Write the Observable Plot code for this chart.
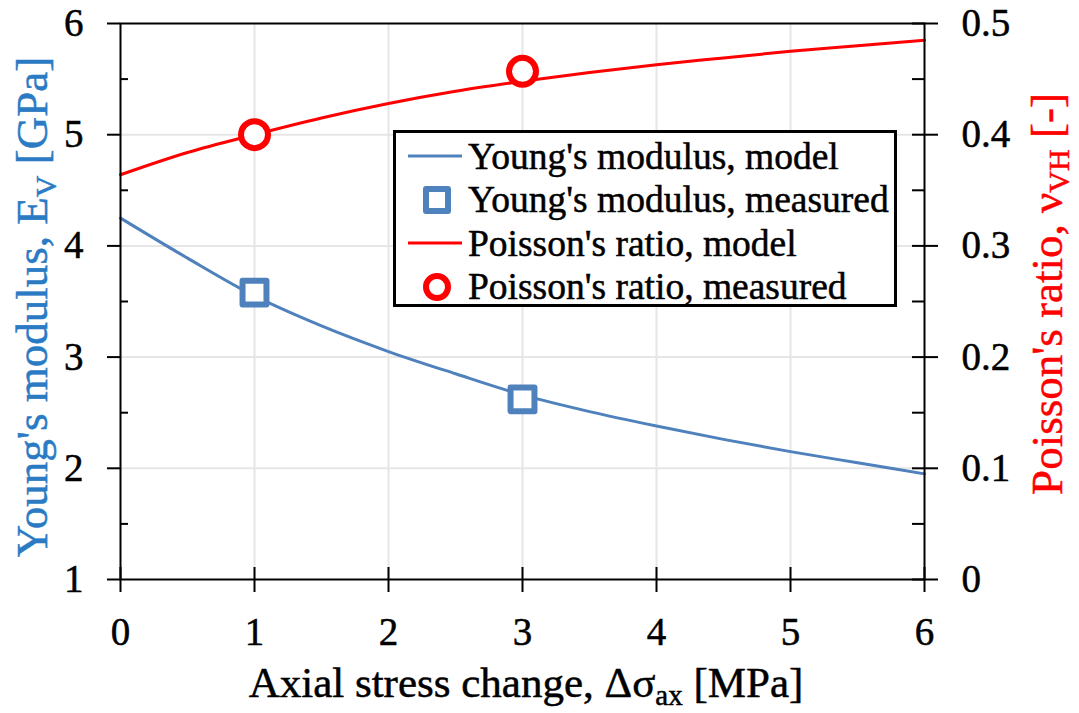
<!DOCTYPE html>
<html>
<head>
<meta charset="utf-8">
<script src="https://cdn.jsdelivr.net/npm/d3@7"></script>
<script src="https://cdn.jsdelivr.net/npm/@observablehq/plot@0.6"></script>
<style>
  body { margin: 0; background: #fff; }
  #wrap { position: relative; width: 1079px; height: 713px; font-family: "Liberation Serif", "Times New Roman", "DejaVu Serif", serif; }
  #wrap svg, #wrap svg text { font-family: "Liberation Serif", "Times New Roman", "DejaVu Serif", serif; }
  #wrap svg text { stroke: #000; stroke-width: 0.5px; }
  #legend { position: absolute; left: 393px; top: 130px; width: 498px; height: 171px; border: 3px solid #000; background: #fff; }
  .row { position: absolute; left: 0; height: 44px; display: flex; align-items: center; font-size: 37.5px; white-space: nowrap; color: #000; -webkit-text-stroke: 0.5px #000; }
  .row svg { display: block; margin-left: 12px; margin-right: 4px; }
</style>
</head>
<body>
<div id="wrap"></div>
<script>
// ---- data ----
const stress = [0, 0.5, 1, 1.5, 2, 2.5, 3, 3.5, 4, 4.5, 5, 5.5, 6];
const youngModel = [4.25, 3.89, 3.55, 3.28, 3.05, 2.85, 2.66, 2.51, 2.38, 2.26, 2.15, 2.05, 1.95];
const poissonModel = [0.364, 0.384, 0.400, 0.415, 0.428, 0.439, 0.448, 0.456, 0.463, 0.469, 0.475, 0.480, 0.485];
const measuredStress = [1, 3];
const youngMeasured = [3.58, 2.62];
const poissonMeasured = [0.400, 0.457];
const xTicks = [0, 1, 2, 3, 4, 5, 6];
const leftTicks = [1, 2, 3, 4, 5, 6];
const leftMinor = [1.5, 2.5, 3.5, 4.5, 5.5];
const rightTicks = [0, 0.1, 0.2, 0.3, 0.4, 0.5];
const rightMinor = [0.05, 0.15, 0.25, 0.35, 0.45];

const blue = "#4f81bd";
const red = "#ff0000";
const blueTitle = "#2a7bc4";
const serif = "'Liberation Serif', 'Times New Roman', 'DejaVu Serif', serif";

// right axis (Poisson) mapped onto left axis domain [1,6]
const nuToE = v => 1 + v * 10;
const eToNuLabel = d => d3.format("~g")(Math.round((d - 1) * 10) / 100);

const modelRows = stress.map((s, i) => ({s, E: youngModel[i], nu: poissonModel[i]}));
const measRows = measuredStress.map((s, i) => ({s, E: youngMeasured[i], nu: poissonMeasured[i]}));

const chart = Plot.plot({
  width: 1079,
  height: 713,
  marginLeft: 120,
  marginRight: 155,
  marginTop: 23,
  marginBottom: 134,
  style: {fontFamily: serif, fontSize: "39px", color: "#000", background: "#fff"},
  x: {domain: [0, 6], label: null},
  y: {domain: [1, 6], label: null},
  marks: [
    Plot.gridX(xTicks.slice(1, -1), {stroke: "#e6e6e6", strokeOpacity: 1, strokeWidth: 2}),
    Plot.gridY(leftTicks.slice(1, -1), {stroke: "#e6e6e6", strokeOpacity: 1, strokeWidth: 2}),
    Plot.line(modelRows, {x: "s", y: "E", stroke: blue, strokeWidth: 3, curve: "monotone-x"}),
    Plot.line(modelRows, {x: "s", y: d => nuToE(d.nu), stroke: red, strokeWidth: 3, curve: "monotone-x"}),
    Plot.frame({stroke: "#000", strokeWidth: 2}),
    // bottom axis
    Plot.axisX(xTicks, {anchor: "bottom", tickSize: 13, tickPadding: 25, strokeWidth: 2, label: null, tickFormat: d => String(d), fontFamily: serif}),
    Plot.axisX(xTicks, {anchor: "bottom", tickSize: -12, tickFormat: () => "", strokeWidth: 2, label: null}),
    // left axis
    Plot.axisY(leftTicks, {anchor: "left", tickSize: 13, tickPadding: 24, strokeWidth: 2, label: null, tickFormat: d => String(d), fontFamily: serif}),
    Plot.axisY(leftMinor, {anchor: "left", tickSize: -8, tickFormat: () => "", strokeWidth: 2, label: null}),
    // right axis
    Plot.axisY(rightTicks.map(nuToE), {anchor: "right", tickSize: 13, tickPadding: 24, strokeWidth: 2, label: null,
      tickFormat: eToNuLabel, fontFamily: serif}),
    Plot.axisY(rightTicks.map(nuToE), {anchor: "right", tickSize: -13, tickFormat: () => "", strokeWidth: 2, label: null}),
    Plot.axisY(rightMinor.map(nuToE), {anchor: "right", tickSize: -13, tickFormat: () => "", strokeWidth: 2, label: null}),
    // measured points
    Plot.dot(measRows, {x: "s", y: "E", symbol: "square", r: 13.5, stroke: blue, strokeWidth: 6, fill: "#fff", strokeLinejoin: "round"}),
    Plot.dot(measRows, {x: "s", y: d => nuToE(d.nu), symbol: "circle", r: 13.5, stroke: red, strokeWidth: 6, fill: "#fff"})
  ]
});

document.getElementById("wrap").appendChild(chart);

// axis titles with subscripts
const svg = d3.select(chart);
const xs = chart.scale("x"), ys = chart.scale("y");
const cx = (xs.apply(0) + xs.apply(6)) / 2;
const cy = (ys.apply(1) + ys.apply(6)) / 2;

const bt = svg.append("text").attr("x", cx + 4).attr("y", 697).attr("text-anchor", "middle")
  .attr("fill", "#000").style("stroke", "#000").attr("font-size", 43).attr("font-family", serif);
bt.append("tspan").text("Axial stress change, Δσ");
bt.append("tspan").attr("font-size", 29).attr("dy", 8).text("ax");
bt.append("tspan").attr("dy", -8).text(" [MPa]");

const lt = svg.append("text").attr("transform", `translate(47,${cy + 6}) rotate(-90)`).attr("text-anchor", "middle")
  .attr("fill", blueTitle).style("stroke", blueTitle).attr("font-size", 45).attr("font-family", serif);
lt.append("tspan").text("Young's modulus, E");
lt.append("tspan").attr("font-size", 30).attr("dy", 9).text("V");
lt.append("tspan").attr("dy", -9).text(" [GPa]");

const rt = svg.append("text").attr("transform", `translate(1062,${cy - 7}) rotate(-90)`).attr("text-anchor", "middle")
  .attr("fill", red).style("stroke", red).attr("font-size", 45).attr("font-family", serif);
rt.append("tspan").text("Poisson's ratio, ν");
rt.append("tspan").attr("font-size", 30).attr("dy", 7).text("VH");
rt.append("tspan").attr("dy", -7).text(" [-]");

// legend
const legendItems = [
  {label: "Young's modulus, model", kind: "line", color: blue},
  {label: "Young's modulus, measured", kind: "square", color: blue},
  {label: "Poisson's ratio, model", kind: "line", color: red},
  {label: "Poisson's ratio, measured", kind: "circle", color: red}
];
const legend = d3.select("#wrap").append("div").attr("id", "legend");
legendItems.forEach((it, i) => {
  const row = legend.append("div").attr("class", "row").style("top", (1 + i * 43.5) + "px");
  const s = row.append("svg").attr("width", 56).attr("height", 40);
  if (it.kind === "line") s.append("line").attr("x1", 0).attr("x2", 54).attr("y1", 20).attr("y2", 20).attr("stroke", it.color).attr("stroke-width", 3);
  else if (it.kind === "square") s.append("rect").attr("x", 18).attr("y", 9).attr("width", 22).attr("height", 22).attr("fill", "#fff").attr("stroke", it.color).attr("stroke-width", 6).attr("stroke-linejoin", "round");
  else s.append("circle").attr("cx", 29).attr("cy", 20).attr("r", 11).attr("fill", "#fff").attr("stroke", it.color).attr("stroke-width", 6);
  row.append("span").text(it.label);
});
</script>
</body>
</html>
